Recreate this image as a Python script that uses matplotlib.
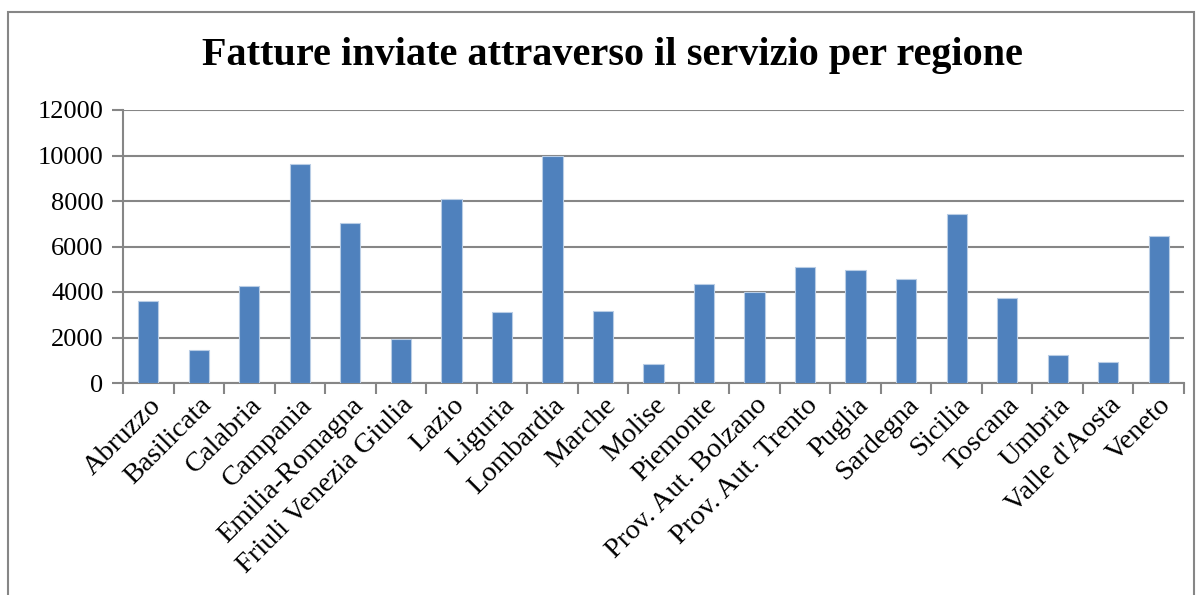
import matplotlib
matplotlib.use("Agg")
import matplotlib.pyplot as plt
from matplotlib.patches import Rectangle
import numpy as np

regioni = ["Abruzzo", "Basilicata", "Calabria", "Campania", "Emilia-Romagna",
           "Friuli Venezia Giulia", "Lazio", "Liguria", "Lombardia", "Marche",
           "Molise", "Piemonte", "Prov. Aut. Bolzano", "Prov. Aut. Trento",
           "Puglia", "Sardegna", "Sicilia", "Toscana", "Umbria",
           "Valle d'Aosta", "Veneto"]
fatture = [3610, 1430, 4250, 9640, 7050, 1930, 8080, 3130, 10000, 3150,
           820, 4360, 4000, 5080, 4970, 4550, 7430, 3720, 1240, 910, 6480]
yticks = [0, 2000, 4000, 6000, 8000, 10000, 12000]

plt.rcParams["font.family"] = ["Liberation Serif", "DejaVu Serif"]
grey = "#868686"

fig = plt.figure(figsize=(12, 5.95), dpi=100)
# outer chart frame (bottom runs off the image)
fig.patches.append(Rectangle((8 / 1200, -0.05), 1186 / 1200, 1.05 - 12 / 595,
                             transform=fig.transFigure, fill=False,
                             edgecolor=grey, lw=1.5))

ax = fig.add_axes([123 / 1200, 1 - 383 / 595, (1184 - 123) / 1200, (383 - 110) / 595])
x = np.arange(len(regioni))
ax.bar(x, fatture, width=0.4, color="#4F81BD", edgecolor="#B9CDE5", lw=0.8, zorder=3)

ax.set_xlim(-0.5, len(regioni) - 0.5)
ax.set_ylim(0, 12000)
ax.set_yticks(yticks)
ax.set_yticklabels([str(v) for v in yticks], fontsize=19)
ax.yaxis.grid(True, color=grey, lw=1.5, zorder=0)

ax.set_xticks(x)
ax.set_xticklabels(regioni, rotation=45, ha="right", rotation_mode="anchor", fontsize=20.5)
ax.set_xticks(np.arange(-0.5, len(regioni)), minor=True)
ax.tick_params(axis="x", which="major", length=0, pad=7)
ax.tick_params(axis="x", which="minor", length=8, width=1.5, color=grey)
ax.tick_params(axis="y", length=8, width=1.5, color=grey, pad=6)

for s in ["top", "right"]:
    ax.spines[s].set_visible(False)
for s in ["left", "bottom"]:
    ax.spines[s].set_color(grey)
    ax.spines[s].set_linewidth(1.5)

fig.text(0.51, 1 - 55 / 595, "Fatture inviate attraverso il servizio per regione",
         ha="center", va="center", fontsize=29, fontweight="bold")

fig.savefig("out.png", dpi=100)
